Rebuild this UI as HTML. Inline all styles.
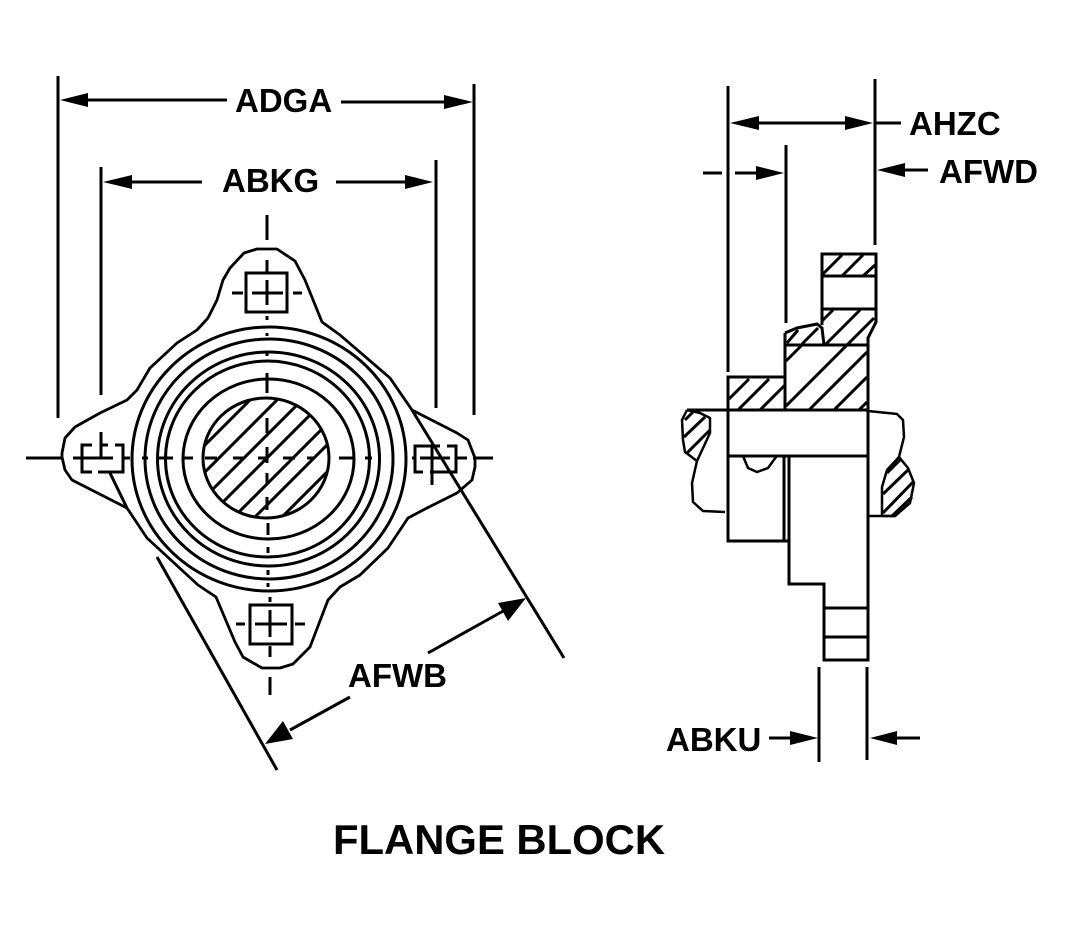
<!DOCTYPE html>
<html>
<head>
<meta charset="utf-8">
<style>
html,body{margin:0;padding:0;background:#fff;}
svg{display:block;}
text{font-family:"Liberation Sans",sans-serif;font-weight:bold;fill:#000;}
</style>
</head>
<body>
<svg width="1084" height="940" viewBox="0 0 1084 940" xmlns="http://www.w3.org/2000/svg">
<defs>
<clipPath id="shaft"><ellipse cx="266" cy="458" rx="63" ry="60"/></clipPath>
</defs>
<rect width="1084" height="940" fill="#fff"/>

<!-- Dimension lines left -->
<g stroke="#000" stroke-width="3" fill="none">
<path d="M58 76V418M474 84V415M101 167V395M436 160V408"/>
<path d="M88 100H227M341 102H444M132 182H202M336 182H405"/>
<path d="M157 557L277 770M412 410L564 658"/>
<path d="M110 473L127 508"/>
<path d="M428 653L505 610M350 697L290 730"/>
</g>
<g fill="#000">
<path d="M60 100L88 93V107Z"/>
<path d="M473 102L444 95V109Z"/>
<path d="M103 182L132 175V189Z"/>
<path d="M433 182L405 175V189Z"/>
<path d="M526 598L498 603L508 621Z"/>
<path d="M265 744L293 739L283 721Z"/>
</g>

<!-- Flange outline -->
<polyline fill="none" stroke="#000" stroke-width="2.8" stroke-linejoin="round" points="208,318 217,300 223,280 230,268 244,253 257,249 277,249 295,261 305,280 322,322 340,335 390,378 412,410 457,433 468,440 475,458 475,467 472,480 457,493 427,508 408,518 388,548 360,575 340,587 328,600 310,647 293,664 280,668 262,668 243,657 235,642 216,597 198,585 147,538 127,508 72,480 65,470 62,457 62,453 65,438 75,427 100,413 127,400 137,390 150,368 177,343 197,330 208,318"/>

<!-- Concentric rings -->
<g fill="none" stroke="#000" stroke-width="3">
<ellipse cx="269" cy="459" rx="137" ry="132"/>
<ellipse cx="269" cy="459" rx="124" ry="120"/>
<ellipse cx="268.500" cy="459" rx="111" ry="107"/>
<ellipse cx="267.500" cy="459" rx="102" ry="98"/>
<ellipse cx="268.500" cy="459" rx="85.500" ry="80"/>
<ellipse cx="266" cy="458" rx="63" ry="60"/>
</g>
<g clip-path="url(#shaft)" stroke="#000" stroke-width="3">
<path d="M270 380L110 540M297 380L137 540M322 380L162 540M345 380L185 540M371 380L211 540M392 380L232 540M419 380L259 540"/>
</g>

<!-- Centerlines -->
<g stroke="#000" stroke-width="3" fill="none">
<path d="M26 458H62M73 458H113M123 458H130M142 458H148M158 458H173M182 458H193M205 458H217M233 458H243M258 458H268M283 458H295M307 458H315M339 458H355M365 458H372M412 458H415M420 458H450M455 458H467M473 458H493"/>
<path d="M267 215V240M267 260V272M267 280V305M267 316V320M267 333V336M267 353V356M267 373V393M267 418V433M267 447V463M267 473V483M267 497V510M268 523V535M268 547V553M268 570V575M268 583V587M270 597V602M270 610V637M270 646V657M270 677V695"/>
</g>

<!-- Top square -->
<g stroke="#000" stroke-width="3" fill="none">
<rect x="246" y="273" width="41" height="39"/>
<path d="M232 293H243M252 293H283M293 293H302"/>
<!-- Bottom square -->
<rect x="250" y="605" width="42" height="39"/>
<path d="M236 624H245M255 624H287M295 624H305"/>
<!-- Left square dashed -->
<path d="M92 445H82V472H92M98 472H123V445H115M102 445H108M101 432V458"/>
<!-- Right square dashed -->
<path d="M440 446H415V472H423M430 472H456V446H447M432 446V485"/>
</g>

<!-- Right view extension lines -->
<g stroke="#000" stroke-width="3" fill="none">
<path d="M728 86V372M786 145V323M875 79V245M819 667V762M867 667V760"/>
<path d="M759 123H845M875 123H901M905 170H928M703 173H722M735 173H756M769 738H790M897 738H920"/>
</g>
<g fill="#000">
<path d="M730 123L759 116V130Z"/>
<path d="M873 123L845 116V130Z"/>
<path d="M877 170L905 163V177Z"/>
<path d="M784 173L756 166V180Z"/>
<path d="M818 738L790 731V745Z"/>
<path d="M870 738L897 731V745Z"/>
</g>

<!-- Right view body -->
<g stroke="#000" stroke-width="3" fill="none" stroke-linejoin="miter">
<path d="M822 325V254H876V322L868 338V660H824V584H789V455"/>
<path d="M822 276H876M822 309H876"/>
<path d="M785 345H868M785 333V410M728 410V377H785"/>
<path d="M687 410H868M728 456H868M728 410V541H789M784 456V541"/>
<path d="M824 608H868M824 637H868"/>
<path d="M785 333L797 328L817 324L822 328L824 345"/>
</g>
<g stroke="#000" stroke-width="2.500" fill="none" stroke-linejoin="round">
<polyline points="743,456 748,468 757,472 768,468 776,457"/>
<polyline points="868,411 897,414 903,420 904,437 899,457"/>
<polyline points="687,410 682,420 683,440 685,452 697,461 710,433 710,418 700,413 687,410"/>
<polyline points="697,461 692,483 693,502 703,511 725,512"/>
<polyline points="899,457 887,470 882,487 882,516 895,516 910,503 914,483 908,468 899,457"/>
<path d="M868 516H895"/>
</g>

<!-- Right view hatching -->
<g stroke="#000" stroke-width="3" fill="none">
<path d="M842 255L823 274M863 255L842 276M875 265L863 276"/>
<path d="M833 310L822 321M860 310L825 345M874 318L847 345"/>
<path d="M798 330L787 343M818 328L802 344"/>
<path d="M802 345L786 361M847 345L786 406M867 352L809 410M867 377L834 410M867 402L859 410"/>
<path d="M749 379L729 399M769 379L738 410M785 385L760 410"/>
<path d="M693 412L685 420M705 417L684 437M710 430L687 453"/>
<path d="M900 460L887 473M908 470L883 494M913 482L883 513M912 497L892 516"/>
</g>

<!-- Labels -->
<text x="235" y="112" font-size="33">ADGA</text>
<text x="222" y="192" font-size="33">ABKG</text>
<text x="909" y="135" font-size="33">AHZC</text>
<text x="939" y="183" font-size="33">AFWD</text>
<text x="348" y="687" font-size="33">AFWB</text>
<text x="666" y="751" font-size="33">ABKU</text>
<text x="333" y="854" font-size="41.800">FLANGE BLOCK</text>
</svg>
</body>
</html>
